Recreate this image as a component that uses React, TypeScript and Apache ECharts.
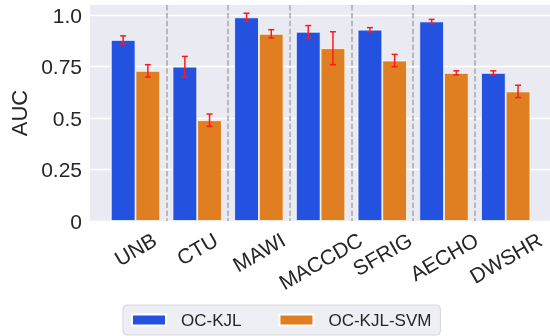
import React, { useEffect, useRef } from 'react';
import * as echarts from 'echarts';

const categories = ['UNB', 'CTU', 'MAWI', 'MACCDC', 'SFRIG', 'AECHO', 'DWSHR'];
const kjlValues = [0.88, 0.75, 0.99, 0.92, 0.93, 0.97, 0.72];
const kjlErrors = [0.02, 0.05, 0.02, 0.03, 0.01, 0.01, 0.01];
const svmValues = [0.73, 0.49, 0.91, 0.84, 0.78, 0.72, 0.63];
const svmErrors = [0.03, 0.03, 0.02, 0.08, 0.03, 0.01, 0.03];
const yTicks = [0, 0.25, 0.5, 0.75, 1.0];
const yTickLabels = ['0', '0.25', '0.5', '0.75', '1.0'];

const FONT = '"Liberation Sans", Arial, sans-serif';
const TEXT = '#262626';
const BLUE = '#2351e0';
const ORANGE = '#e07f21';

export default function App() {
  const ref = useRef<HTMLDivElement>(null);
  useEffect(() => {
    if (!ref.current) return;
    const chart = echarts.init(ref.current, null, { renderer: 'svg' });
    const ctx = document.createElement('canvas').getContext('2d')!;
    ctx.font = `21px ${FONT}`;
    // matplotlib-style rotated labels: centred on the tick, top of rotated box at a fixed offset
    const xData = categories.map((c) => {
      const w = ctx.measureText(c).width;
      const L = 22.5 + 0.433 * w;
      const R = 0.577 * L;
      return {
        value: c,
        textStyle: {
          align: 'center',
          verticalAlign: 'top',
          lineHeight: L,
          padding: [0, R, 0, 0],
          fontSize: 21,
          color: TEXT,
          fontFamily: FONT,
        },
      };
    });

    const errSeries = (name: string, vals: number[], errs: number[], sign: number) => ({
      type: 'custom',
      name,
      xAxisIndex: 1,
      yAxisIndex: 1,
      z: 5,
      silent: true,
      data: categories.map((_, i) => [i, vals[i], errs[i]]),
      encode: { x: 0, y: 1 },
      renderItem: (params: any, api: any) => {
        const i = api.value(0);
        const v = api.value(1);
        const e = api.value(2);
        const band = api.size([1, 0])[0];
        const x = api.coord([i, v])[0] + sign * band * 0.2;
        const top = api.coord([i, v + e])[1];
        const bot = api.coord([i, v - e])[1];
        const cap = 3;
        const st = { stroke: '#ff1a1a', lineWidth: 1.5 };
        return {
          type: 'group',
          children: [
            { type: 'line', shape: { x1: x, y1: top, x2: x, y2: bot }, style: st },
            { type: 'line', shape: { x1: x - cap, y1: top, x2: x + cap, y2: top }, style: st },
            { type: 'line', shape: { x1: x - cap, y1: bot, x2: x + cap, y2: bot }, style: st },
          ],
        };
      },
    });

    chart.setOption({
      animation: false,
      textStyle: { fontFamily: FONT },
      grid: [
        {
          left: 90, right: 0, top: 5, bottom: 115, show: true, backgroundColor: '#eaeaf2', borderWidth: 0,
          containLabel: false, outerBoundsMode: 'none',
        },
        { left: 104.65, right: 13.45, top: 5, bottom: 115, containLabel: false, outerBoundsMode: 'none' },
      ],
      legend: {
        data: ['OC-KJL', 'OC-KJL-SVM'],
        left: 123,
        top: 305,
        itemWidth: 34,
        itemHeight: 11,
        itemGap: 37,
        padding: [5, 9, 5, 8],
        backgroundColor: '#eeeef5',
        borderColor: '#d6d6d6',
        borderWidth: 1,
        borderRadius: 4,
        icon: 'rect',
        textStyle: { fontSize: 17, color: TEXT, fontFamily: FONT, padding: [0, 0, 0, 10], lineHeight: 20 },
      },
      xAxis: [
        { type: 'value', gridIndex: 0, show: false, min: 0, max: 1 },
        {
          type: 'category',
          gridIndex: 1,
          data: xData,
          axisLine: { show: false },
          axisTick: { show: false },
          axisLabel: {
            interval: 0,
            rotate: 30,
            align: 'center',
            verticalAlign: 'top',
            margin: 4,
            hideOverlap: false,
            fontSize: 21,
            color: TEXT,
            fontFamily: FONT,
          },
          splitLine: {
            show: true,
            interval: 0,
            showMinLine: false,
            showMaxLine: false,
            lineStyle: { color: '#a9a9a9', width: 1.5, type: [5.5, 2.4] },
          },
        },
      ],
      yAxis: [
        {
          type: 'value',
          gridIndex: 0,
          min: 0,
          max: 1.05,
          interval: 0.25,
          name: 'AUC',
          nameLocation: 'middle',
          nameGap: 56,
          nameTextStyle: { fontSize: 22, color: TEXT, fontFamily: FONT },
          axisLine: { show: false },
          axisTick: { show: false },
          axisLabel: {
            margin: 8,
            fontSize: 21,
            color: TEXT,
            fontFamily: FONT,
            showMaxLabel: false,
            formatter: (v: number) => {
              const k = yTicks.findIndex((t) => Math.abs(t - v) < 1e-6);
              return k >= 0 ? yTickLabels[k] : '';
            },
          },
          splitLine: { show: true, showMaxLine: false, lineStyle: { color: '#ffffff', width: 1.3 } },
        },
        { type: 'value', gridIndex: 1, min: 0, max: 1.05, show: false, splitLine: { show: false } },
      ],
      series: [
        {
          type: 'bar',
          name: 'OC-KJL',
          xAxisIndex: 1,
          yAxisIndex: 1,
          data: kjlValues,
          barWidth: '40%',
          barGap: '0%',
          itemStyle: { color: BLUE, borderColor: '#ffffff', borderWidth: 0.8 },
        },
        {
          type: 'bar',
          name: 'OC-KJL-SVM',
          xAxisIndex: 1,
          yAxisIndex: 1,
          data: svmValues,
          barWidth: '40%',
          barGap: '0%',
          itemStyle: { color: ORANGE, borderColor: '#ffffff', borderWidth: 0.8 },
        },
        errSeries('kjl-err', kjlValues, kjlErrors, -1),
        errSeries('svm-err', svmValues, svmErrors, 1),
      ],
    });
    return () => chart.dispose();
  }, []);
  return <div ref={ref} style={{ position: 'fixed', left: 0, top: 0, width: 550, height: 336 }} />;
}
